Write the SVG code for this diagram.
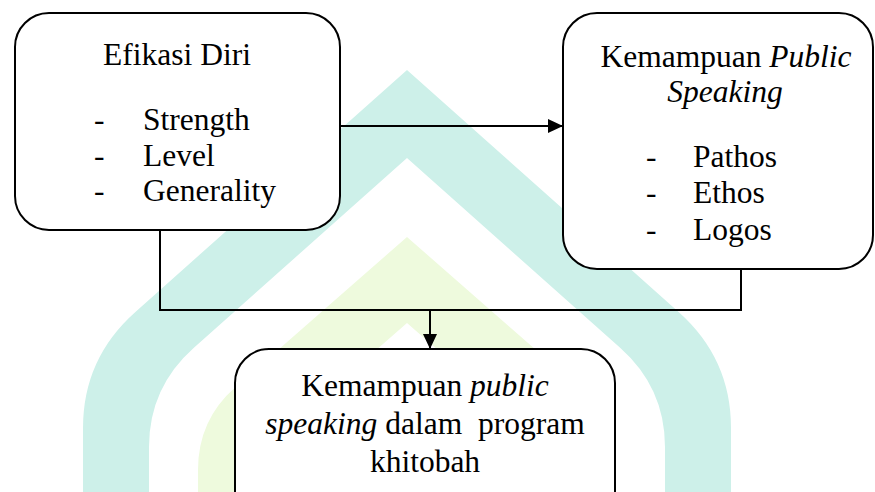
<svg xmlns="http://www.w3.org/2000/svg" width="875" height="492" viewBox="0 0 875 492">
<defs>
<style>
.box{fill:#ffffff;stroke:#000000;stroke-width:2}
.t{font-family:"Liberation Serif","Times New Roman",serif;font-size:31.5px;fill:#000000}
.c{text-anchor:middle}
.i{font-style:italic}
.conn{fill:none;stroke:#000000;stroke-width:2}
.wm1{fill:#cdf0e9;fill-rule:evenodd}
.wm2{fill:#eefadd;fill-rule:evenodd}
</style>
<marker id="arr" markerUnits="userSpaceOnUse" markerWidth="16" markerHeight="14" refX="15" refY="7" orient="auto">
<path d="M0,0 L15,7 L0,14 Z" fill="#000000"/>
</marker>
</defs>
<rect width="875" height="492" fill="#ffffff"/>
<g id="watermark">
<path class="wm1" d="M83,500 L83,428 Q83,358.4 135.4,311.9 L407,70 L678.6,311.9 Q731,358.4 731,428 L731,500 Z M149,500 L149,447 Q149,387.6 193.9,347.8 L407,158 L620.1,347.8 Q665,387.6 665,447 L665,500 Z"/>
<path class="wm2" d="M198,500 L198,470 Q198,420 235,387.5 L407,237 L579,387.5 Q616,420 616,470 L616,500 Z M262,500 L262,495 Q262,450 295,421 L407,323 L519,421 Q552,450 552,495 L552,500 Z"/>
</g>
<g id="connectors">
<line class="conn" x1="340" y1="126" x2="563" y2="126" marker-end="url(#arr)"/>
<polyline class="conn" points="160,230 160,310 741,310 741,269"/>
<line class="conn" x1="430" y1="310" x2="430" y2="349" marker-end="url(#arr)"/>
</g>
<g id="efikasi">
<rect class="box" x="15" y="13" width="325" height="217" rx="34" ry="34"/>
<text class="t c" x="177" y="65">Efikasi Diri</text>
<text class="t" x="94" y="130">-</text><text class="t" x="143" y="130">Strength</text>
<text class="t" x="94" y="166">-</text><text class="t" x="143" y="166">Level</text>
<text class="t" x="94" y="201">-</text><text class="t" x="143" y="201">Generality</text>
</g>
<g id="public-speaking">
<rect class="box" x="563" y="13" width="310" height="256" rx="34" ry="34"/>
<text class="t c" x="726" y="67">Kemampuan <tspan class="i">Public</tspan></text>
<text class="t c i" x="725" y="102">Speaking</text>
<text class="t" x="646" y="167">-</text><text class="t" x="693" y="167">Pathos</text>
<text class="t" x="646" y="203">-</text><text class="t" x="693" y="203">Ethos</text>
<text class="t" x="646" y="240">-</text><text class="t" x="693" y="240">Logos</text>
</g>
<g id="khitobah">
<rect class="box" x="235" y="349" width="380" height="180" rx="34" ry="34"/>
<text class="t c" x="425" y="396">Kemampuan <tspan class="i">public</tspan></text>
<text class="t c" x="425" y="434" style="white-space:pre"><tspan class="i">speaking</tspan> dalam  program</text>
<text class="t c" x="425" y="472">khitobah</text>
</g>
</svg>
